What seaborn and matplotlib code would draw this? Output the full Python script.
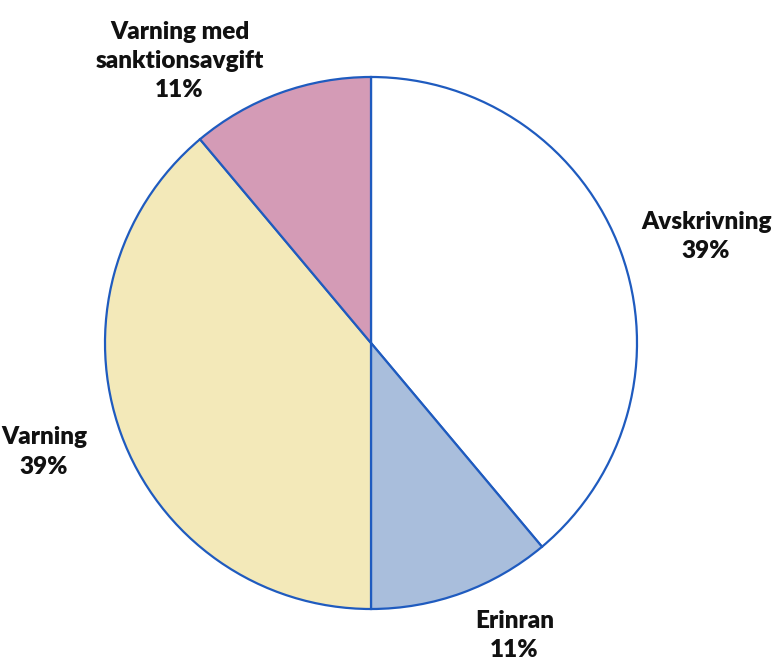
import matplotlib
matplotlib.use("Agg")
import matplotlib.pyplot as plt
import seaborn as sns

# Data
categories = ["Avskrivning", "Erinran", "Varning", "Varning med\nsanktionsavgift"]
counts = [7, 2, 7, 2]
colors = ["#FFFFFF", "#A9BEDC", "#F3E9B9", "#D49BB6"]

# where each label sits, in pie-radius units
label_pos = [(1.26, 0.40), (0.54, -1.10), (-1.23, -0.41), (-0.72, 1.06)]

sns.set_theme(style="white")
plt.rcParams["font.family"] = ["Lato", "DejaVu Sans"]

fig = plt.figure(figsize=(7.73, 6.66), dpi=100)
ax = fig.add_axes([(371 - 266) / 773, (666 - 609) / 666, 532 / 773, 532 / 666])

wedges, _ = ax.pie(
    counts,
    colors=colors,
    startangle=90,
    counterclock=False,
    wedgeprops=dict(edgecolor="#1F5BBF", linewidth=1.6),
)
ax.set_xlim(-1, 1)
ax.set_ylim(-1, 1)
ax.set_aspect("equal")
ax.axis("off")

total = sum(counts)
for name, n, (x, y) in zip(categories, counts, label_pos):
    pct = round(100 * n / total)
    ax.text(x, y, f"{name}\n{pct}%", ha="center", va="center",
            fontsize=17.5, fontweight="heavy", color="#111111",
            linespacing=1.4, clip_on=False)

fig.savefig("out.png", dpi=100)
